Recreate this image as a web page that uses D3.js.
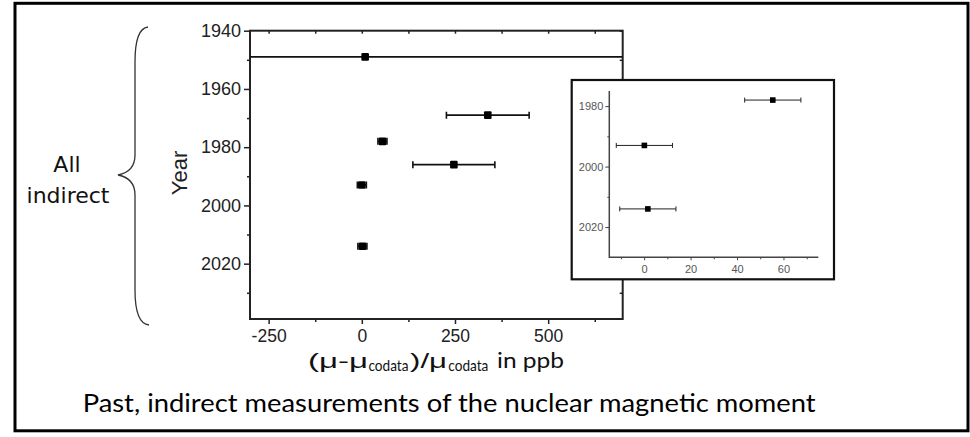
<!DOCTYPE html>
<html>
<head>
<meta charset="utf-8">
<script src="https://cdn.jsdelivr.net/npm/d3@7"></script>
<style>
  body { margin: 0; background: #fff; }
  svg { display: block; }
</style>
</head>
<body>
<svg id="chart" width="970" height="437"></svg>
<script>
// ---- data ----
const years  = [1949, 1969, 1978, 1986, 1993, 2014];
const values = [9, 338, 55.4, 247, 0.1, 1.6];     // (mu - mu_codata)/mu_codata in ppb
const errors = [1000, 111, 12.1, 110, 12.1, 12.1];  // +/- ppb

const mainXTicks = [-250, 0, 250, 500];
const mainXMinor = [-125, 125, 375, 625];
const mainYTicks = [1940, 1960, 1980, 2000, 2020];
const mainYMinor = [1950, 1970, 1990, 2010, 2030];

const insetXTicks = [0, 20, 40, 60];
const insetXMinor = [-10, 10, 30, 50, 70];
const insetYTicks = [1980, 2000, 2020];
const insetYMinor = [1990, 2010];

const data = years.map((y, i) => ({year: y, value: values[i], err: errors[i]}));
const fmt = d => String(d);   // plain hyphen-minus like the reference

const svg = d3.select("#chart");

// outer frame
svg.append("rect").attr("x", 15).attr("y", 3.3).attr("width", 953).attr("height", 427.5)
  .attr("fill", "none").attr("stroke", "#000").attr("stroke-width", 3);

// ---- main plot ----
const x = d3.scaleLinear().domain([-300, 700]).range([250, 622.7]);
const y = d3.scaleLinear().domain([1940, 2039]).range([30.7, 319]);

const tickFont = "'Liberation Sans', Arial, sans-serif";

function styleAxis(g, w) {
  g.select(".domain").remove();
  g.selectAll(".tick line").attr("stroke", "#222").attr("stroke-width", w);
  g.selectAll(".tick text").attr("fill", "#222").style("font-family", tickFont);
}

// left axis (labels)
svg.append("g").attr("transform", `translate(${x.range()[0]},0)`)
  .call(d3.axisLeft(y).tickValues(mainYTicks).tickSize(6).tickPadding(3).tickFormat(fmt))
  .call(g => styleAxis(g, 1.5))
  .selectAll("text").style("font-size", "18px");
svg.append("g").attr("transform", `translate(${x.range()[0]},0)`)
  .call(d3.axisLeft(y).tickValues(mainYMinor).tickSize(3).tickFormat(""))
  .call(g => styleAxis(g, 1.5));
// bottom axis
svg.append("g").attr("transform", `translate(0,${y.range()[1]})`)
  .call(d3.axisBottom(x).tickValues(mainXTicks).tickSize(5).tickPadding(6).tickFormat(fmt))
  .call(g => styleAxis(g, 1.5))
  .selectAll("text").style("font-size", "17.5px");
svg.append("g").attr("transform", `translate(0,${y.range()[1]})`)
  .call(d3.axisBottom(x).tickValues(mainXMinor).tickSize(3).tickFormat(""))
  .call(g => styleAxis(g, 1.5));
// top axis (inward ticks)
svg.append("g").attr("transform", `translate(0,${y.range()[0]})`)
  .call(d3.axisBottom(x).tickValues(mainXTicks.concat(mainXMinor)).tickSize(3).tickFormat(""))
  .call(g => styleAxis(g, 1.5));
// right axis (inward ticks)
svg.append("g").attr("transform", `translate(${x.range()[1]},0)`)
  .call(d3.axisLeft(y).tickValues(mainYTicks.concat(mainYMinor)).tickSize(3).tickFormat(""))
  .call(g => styleAxis(g, 1.5));

// plot frame
svg.append("rect")
  .attr("x", x.range()[0]).attr("y", y.range()[0])
  .attr("width", x.range()[1] - x.range()[0]).attr("height", y.range()[1] - y.range()[0])
  .attr("fill", "none").attr("stroke", "#222").attr("stroke-width", 2);

svg.append("clipPath").attr("id", "mainClip").append("rect")
  .attr("x", x.range()[0]).attr("y", y.range()[0])
  .attr("width", x.range()[1] - x.range()[0]).attr("height", y.range()[1] - y.range()[0]);

const mainG = svg.append("g").attr("clip-path", "url(#mainClip)");
const eb = mainG.selectAll("g.eb").data(data).join("g").attr("class", "eb")
  .attr("stroke", "#111").attr("stroke-width", 1.6);
eb.append("line")
  .attr("x1", d => x(d.value - d.err)).attr("x2", d => x(d.value + d.err))
  .attr("y1", d => y(d.year)).attr("y2", d => y(d.year));
eb.append("line")
  .attr("x1", d => x(d.value - d.err)).attr("x2", d => x(d.value - d.err))
  .attr("y1", d => y(d.year) - 3.5).attr("y2", d => y(d.year) + 3.5);
eb.append("line")
  .attr("x1", d => x(d.value + d.err)).attr("x2", d => x(d.value + d.err))
  .attr("y1", d => y(d.year) - 3.5).attr("y2", d => y(d.year) + 3.5);
mainG.selectAll("rect.pt").data(data).join("rect").attr("class", "pt")
  .attr("x", d => x(d.value) - 3.8).attr("y", d => y(d.year) - 3.8)
  .attr("width", 7.6).attr("height", 7.6).attr("rx", 1)
  .attr("fill", "#000");

// axis titles
svg.append("text").attr("transform", "translate(187,173) rotate(-90)")
  .attr("text-anchor", "middle").attr("fill", "#222")
  .style("font-family", tickFont).style("font-size", "22px").text("Year");

const labFont = "Lato, 'Open Sans', sans-serif";
const xlab = svg.append("g").attr("fill", "#111");
xlab.append("text").attr("x", 308).attr("y", 368).attr("textLength", 60).attr("lengthAdjust", "spacingAndGlyphs")
  .style("font-family", tickFont).style("font-size", "21px").text("(μ-μ");
xlab.append("text").attr("x", 368.5).attr("y", 371).attr("textLength", 40).attr("lengthAdjust", "spacingAndGlyphs")
  .style("font-family", labFont).style("font-size", "15px").text("codata");
xlab.append("text").attr("x", 410).attr("y", 368).attr("textLength", 37).attr("lengthAdjust", "spacingAndGlyphs")
  .style("font-family", tickFont).style("font-size", "21px").text(")/μ");
xlab.append("text").attr("x", 448.3).attr("y", 371).attr("textLength", 40).attr("lengthAdjust", "spacingAndGlyphs")
  .style("font-family", labFont).style("font-size", "15px").text("codata");
xlab.append("text").attr("x", 497).attr("y", 368).attr("textLength", 67).attr("lengthAdjust", "spacingAndGlyphs")
  .style("font-family", labFont).style("font-size", "22px").text("in ppb");

// ---- inset ----
svg.append("rect").attr("x", 571.7).attr("y", 80).attr("width", 262.3).attr("height", 199.3)
  .attr("fill", "#fff").attr("stroke", "#111").attr("stroke-width", 2.2);

const xi = d3.scaleLinear().domain([-15, 75]).range([609.3, 818.3]);
const yi = d3.scaleLinear().domain([1975, 2030]).range([91, 257.3]);

function styleInset(g) {
  g.select(".domain").remove();
  g.selectAll(".tick line").attr("stroke", "#444").attr("stroke-width", 1);
  g.selectAll(".tick text").attr("fill", "#555").style("font-family", tickFont).style("font-size", "11px");
}
svg.append("g").attr("transform", `translate(${xi.range()[0]},0)`)
  .call(d3.axisLeft(yi).tickValues(insetYTicks).tickSize(4).tickPadding(2).tickFormat(fmt))
  .call(styleInset);
svg.append("g").attr("transform", `translate(${xi.range()[0]},0)`)
  .call(d3.axisLeft(yi).tickValues(insetYMinor).tickSize(2).tickFormat(""))
  .call(styleInset);
svg.append("g").attr("transform", `translate(0,${yi.range()[1]})`)
  .call(d3.axisBottom(xi).tickValues(insetXTicks).tickSize(3).tickPadding(5).tickFormat(fmt))
  .call(styleInset);
svg.append("g").attr("transform", `translate(0,${yi.range()[1]})`)
  .call(d3.axisBottom(xi).tickValues(insetXMinor).tickSize(2).tickFormat(""))
  .call(styleInset);
// inset axis lines
svg.append("path")
  .attr("d", `M${xi.range()[0]},${yi.range()[0]}V${yi.range()[1]}H${xi.range()[1]}`)
  .attr("fill", "none").attr("stroke", "#444").attr("stroke-width", 1.5);

const insetData = data.filter(d => d.value >= xi.domain()[0] && d.value <= xi.domain()[1]
  && d.year >= yi.domain()[0] && d.year <= yi.domain()[1]);
const ebi = svg.append("g").selectAll("g").data(insetData).join("g")
  .attr("stroke", "#222").attr("stroke-width", 1);
ebi.append("line")
  .attr("x1", d => xi(d.value - d.err)).attr("x2", d => xi(d.value + d.err))
  .attr("y1", d => yi(d.year)).attr("y2", d => yi(d.year));
ebi.append("line")
  .attr("x1", d => xi(d.value - d.err)).attr("x2", d => xi(d.value - d.err))
  .attr("y1", d => yi(d.year) - 2.5).attr("y2", d => yi(d.year) + 2.5);
ebi.append("line")
  .attr("x1", d => xi(d.value + d.err)).attr("x2", d => xi(d.value + d.err))
  .attr("y1", d => yi(d.year) - 2.5).attr("y2", d => yi(d.year) + 2.5);
svg.append("g").selectAll("rect").data(insetData).join("rect")
  .attr("x", d => xi(d.value) - 2.8).attr("y", d => yi(d.year) - 2.8)
  .attr("width", 5.6).attr("height", 5.6).attr("fill", "#000");

// ---- brace and group label ----
svg.append("path")
  .attr("d", "M148,27 C139,28 135,40 135,62 L135,155 C135,168 128,173 118,175 C128,177 135,182 135,195 L135,290 C135,312 139,324 149,325")
  .attr("fill", "none").attr("stroke", "#333").attr("stroke-width", 1.3);
const grp = svg.append("g").attr("fill", "#111").attr("text-anchor", "middle")
  .style("font-family", "'DejaVu Sans', Verdana, sans-serif").style("font-size", "22px");
grp.append("text").attr("x", 67).attr("y", 171.7).text("All");
grp.append("text").attr("x", 68).attr("y", 202.7).text("indirect");

// ---- caption ----
svg.append("text").attr("x", 82.7).attr("y", 412)
  .attr("textLength", 733).attr("lengthAdjust", "spacingAndGlyphs")
  .attr("fill", "#000").style("font-family", labFont).style("font-size", "25px")
  .text("Past, indirect measurements of the nuclear magnetic moment");
</script>
</body>
</html>
